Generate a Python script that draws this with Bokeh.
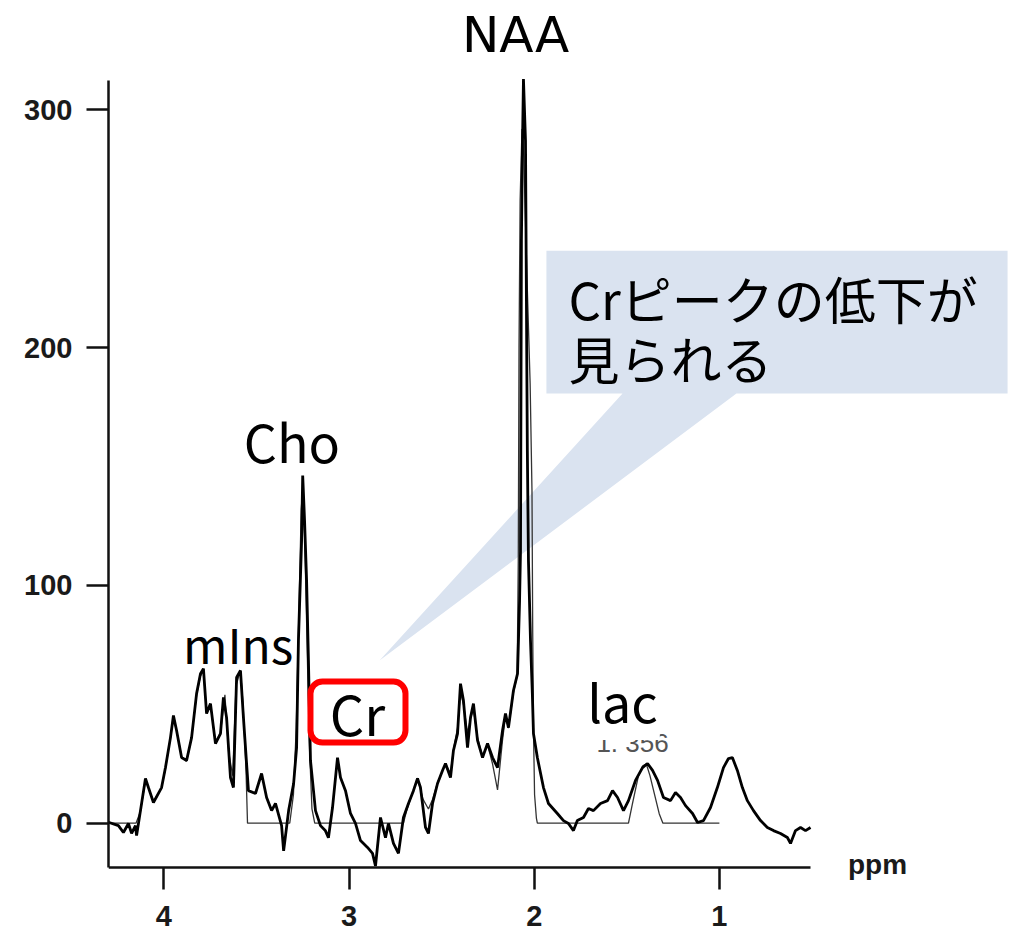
from bokeh.plotting import figure
from bokeh.models import Range1d, FixedTicker, Label, BoxAnnotation
from bokeh.embed import file_html
from bokeh.resources import INLINE

# ---- data ----
raw_ppm = [4.299, 4.245, 4.218, 4.191, 4.174, 4.153, 4.147, 4.126, 4.099, 4.083,
           4.056, 4.012, 3.991, 3.964, 3.948, 3.931, 3.904, 3.877, 3.850, 3.823,
           3.802, 3.786, 3.769, 3.748, 3.721, 3.694, 3.678, 3.661, 3.640, 3.624,
           3.607, 3.586, 3.570, 3.543, 3.505, 3.472, 3.445, 3.418, 3.397, 3.364,
           3.353, 3.326, 3.299, 3.283, 3.273, 3.256, 3.250, 3.240, 3.229, 3.219,
           3.208, 3.181, 3.154, 3.127, 3.111, 3.089, 3.062, 3.046, 3.019, 2.992,
           2.965, 2.938, 2.900, 2.873, 2.857, 2.830, 2.803, 2.787, 2.760, 2.733,
           2.706, 2.679, 2.652, 2.630, 2.614, 2.587, 2.571, 2.549, 2.522, 2.495,
           2.479, 2.452, 2.436, 2.414, 2.398, 2.382, 2.360, 2.344, 2.328, 2.306,
           2.279, 2.252, 2.225, 2.198, 2.171, 2.155, 2.139, 2.112, 2.090, 2.079,
           2.074, 2.069, 2.063, 2.058, 2.047, 2.042, 2.037, 2.031, 2.020, 2.010,
           2.004, 1.983, 1.950, 1.923, 1.875, 1.842, 1.815, 1.788, 1.767, 1.734,
           1.707, 1.680, 1.642, 1.604, 1.577, 1.550, 1.518, 1.491, 1.453, 1.415,
           1.388, 1.361, 1.334, 1.302, 1.264, 1.237, 1.210, 1.183, 1.145, 1.118,
           1.086, 1.048, 1.011, 0.978, 0.951, 0.930, 0.903, 0.876, 0.849, 0.816,
           0.778, 0.741, 0.708, 0.670, 0.633, 0.616, 0.589, 0.562, 0.535, 0.508]
raw_int = [0.4, -1.0, -3.9, -0.1, -4.3, -1.0, -5.2, 5.3, 18.8, 15.0,
           8.7, 15.0, 23.4, 36.0, 45.3, 39.0, 27.6, 26.4, 36.0, 54.5,
           62.9, 65.0, 46.1, 50.3, 33.5, 37.7, 52.9, 44.4, 19.2, 15.0,
           61.3, 64.2, 44.4, 13.7, 12.5, 20.9, 10.8, 5.3, 8.3, -1.0,
           -11.6, 5.3, 16.7, 31.8, 76.8, 118.7, 146.2, 127.3, 102.1, 68.4,
           26.4, 5.3, -1.0, -3.2, -6.1, 6.6, 27.6, 19.2, 13.7, 4.1,
           -0.1, -7.3, -10.2, -12.7, -18.0, 2.4, -6.1, -0.1, -8.5, -12.7,
           2.4, 8.3, 13.7, 18.8, 15.0, -1.8, -4.3, 8.3, 16.7, 22.2,
           25.1, 19.2, 30.6, 37.7, 58.7, 51.6, 31.8, 44.4, 50.3, 34.8,
           27.6, 33.5, 27.6, 23.4, 39.0, 46.1, 40.2, 55.8, 62.9, 93.6,
           114.5, 245.0, 287.0, 313.0, 287.0, 219.8, 156.6, 110.5, 76.8, 54.5,
           37.7, 27.6, 15.0, 8.3, 4.1, 1.1, -0.1, -3.1, 1.1, 2.4,
           6.2, 5.3, 8.3, 9.5, 13.7, 10.8, 5.3, 9.5, 18.0, 23.4,
           25.1, 22.2, 18.0, 10.8, 9.5, 12.9, 10.8, 7.4, 4.1, 0.3,
           1.1, 6.6, 15.0, 23.4, 27.2, 27.6, 22.2, 15.0, 9.5, 5.3,
           1.1, -1.8, -3.1, -4.3, -6.0, -8.5, -3.1, -1.8, -3.1, -1.8]

fit_ppm = [4.299, 4.150, 4.126, 4.099, 4.083, 4.056, 4.012, 3.991, 3.964, 3.948,
           3.931, 3.904, 3.877, 3.850, 3.823, 3.802, 3.786, 3.769, 3.748, 3.721,
           3.694, 3.670, 3.650, 3.628, 3.610, 3.586, 3.572, 3.556, 3.548, 3.320,
           3.300, 3.285, 3.270, 3.258, 3.250, 3.240, 3.229, 3.215, 3.200, 3.185,
           2.706, 2.690, 2.652, 2.630, 2.600, 2.571, 2.549, 2.522, 2.495, 2.479,
           2.452, 2.436, 2.414, 2.398, 2.382, 2.360, 2.344, 2.328, 2.306, 2.279,
           2.252, 2.225, 2.198, 2.171, 2.155, 2.139, 2.112, 2.092, 2.086, 2.082,
           2.076, 2.066, 2.056, 2.040, 2.022, 2.012, 2.008, 2.004, 1.998, 1.988,
           1.983, 1.491, 1.470, 1.437, 1.415, 1.395, 1.375, 1.350, 1.325, 1.305,
           1.000]
fit_int = [0, 0, 5, 18, 15, 9, 15, 23, 36, 44,
           39, 28, 26, 36, 54, 62, 64, 47, 50, 34,
           38, 54, 30, 20, 58, 64, 50, 22, 0, 0,
           12, 40, 90, 132, 140, 122, 85, 35, 6, 0,
           0, 5, 14, 19, 10, 6, 10, 17, 22, 25,
           21, 31, 40, 55, 50, 38, 44, 48, 36, 28,
           33, 25, 14, 35, 45, 40, 55, 62, 110, 200,
           262, 292, 280, 232, 185, 140, 80, 40, 12, 2,
           0, 0, 8, 20, 24, 25, 20, 12, 4, 0,
           0]

x_ticks = [1, 2, 3, 4]
y_ticks = [0, 100, 200, 300]

title_text = "NAA"
peak_labels = ["Cho", "mIns", "lac"]
callout_lines = ["Crピークの低下が", "見られる"]

# ---- figure ----
X0, X1 = 4.2986, -0.5826
Y0, Y1 = -45.96, 346.0
AX_Y = -18.5      # where the ppm axis sits
AX_TOP = 312.3    # top end of the intensity axis
AX_XMIN = 0.508   # right end of the ppm axis

p = figure(width=1012, height=932, output_backend="svg", toolbar_location=None,
           title=None, x_range=Range1d(X0, X1), y_range=Range1d(Y0, Y1),
           min_border_left=108, min_border_right=0, min_border_top=0,
           min_border_bottom=0)
p.outline_line_color = None
p.grid.visible = False
p.background_fill_color = "white"
p.border_fill_color = "white"

for ax in (p.xaxis, p.yaxis):
    ax.axis_line_width = 2.5
    ax.axis_line_color = "#111111"
    ax.major_tick_line_width = 2.5
    ax.major_tick_line_color = "#111111"
    ax.major_tick_out = 22
    ax.major_tick_in = 0
    ax.minor_tick_line_color = None
    ax.major_label_text_font = "Liberation Sans"
    ax.major_label_text_font_style = "bold"
    ax.major_label_text_font_size = "29px"
    ax.major_label_text_color = "#1a1a1a"
p.xaxis.ticker = FixedTicker(ticks=x_ticks)
p.yaxis.ticker = FixedTicker(ticks=y_ticks)
p.xaxis.fixed_location = AX_Y
p.xaxis.bounds = (AX_XMIN, X0)
p.yaxis.bounds = (AX_Y, AX_TOP)
p.xaxis.major_label_standoff = 17
p.yaxis.major_label_standoff = 14

# callout balloon
p.patch([1.934, -0.556, -0.556, 0.908, 2.835, 1.523, 1.934],
        [240.8, 240.8, 180.7, 180.7, 68.4, 180.7, 180.7],
        fill_color="#dae3f0", line_color=None)

# fitted curve (thin) and measured spectrum (thick)
p.line(fit_ppm, fit_int, line_color="#333333", line_width=1.3)
p.line(raw_ppm, raw_int, line_color="black", line_width=2.8)

JP = "Noto Sans CJK JP"

p.add_layout(Label(x=2.101, y=331.6, text=title_text, text_font="DejaVu Sans",
                   text_font_size="50px", text_align="center",
                   text_baseline="alphabetic", text_color="black"))
p.add_layout(Label(x=3.308, y=161.0, text=peak_labels[0], text_font=JP,
                   text_font_size="52px", text_align="center",
                   text_baseline="middle", text_color="black"))
p.add_layout(Label(x=3.599, y=75.6, text=peak_labels[1], text_font=JP,
                   text_font_size="48px", text_align="center",
                   text_baseline="middle", text_color="black"))
p.add_layout(Label(x=1.469, y=33.6, text="1. 356", text_font="Liberation Sans",
                   text_font_size="26px", text_align="center",
                   text_baseline="middle", text_color="#555555"))
p.add_layout(Label(x=1.523, y=51.6, text=peak_labels[2], text_font=JP,
                   text_font_size="52px", text_align="center",
                   text_baseline="middle", text_color="black",
                   background_fill_color="white", padding=2))

# red rounded box around Cr
p.add_layout(BoxAnnotation(left=3.208, right=2.695, bottom=33.9, top=59.6,
                           fill_color="white", fill_alpha=1.0,
                           line_color="#ff0000", line_width=6, line_alpha=1.0,
                           border_radius=12))
p.add_layout(Label(x=2.954, y=46.6, text="Cr", text_font=JP,
                   text_font_size="54px", text_align="center",
                   text_baseline="middle", text_color="black"))

p.add_layout(Label(x=1.815, y=221.0, text=callout_lines[0], text_font=JP,
                   text_font_size="51px", text_align="left",
                   text_baseline="middle", text_color="black"))
p.add_layout(Label(x=1.815, y=195.8, text=callout_lines[1], text_font=JP,
                   text_font_size="51px", text_align="left",
                   text_baseline="middle", text_color="black"))

p.add_layout(Label(x=0.146, y=-17.4, text="ppm", text_font="Liberation Sans",
                   text_font_style="bold", text_font_size="28px",
                   text_align="center", text_baseline="middle",
                   text_color="#1a1a1a"))

open("out.html", "w").write(file_html(p, INLINE))
